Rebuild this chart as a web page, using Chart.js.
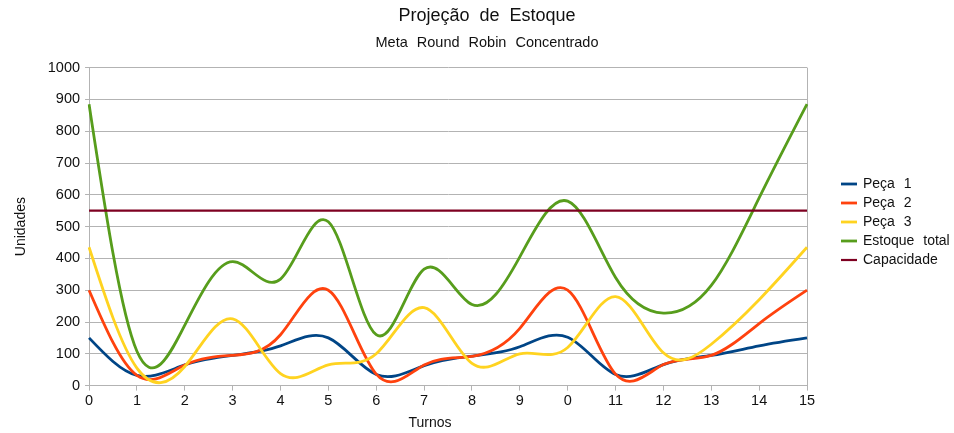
<!DOCTYPE html>
<html lang="pt">
<head>
<meta charset="utf-8">
<title>Projeção de Estoque</title>
<script src="https://cdn.jsdelivr.net/npm/chart.js@4/dist/chart.umd.min.js"></script>
<style>
  html, body { margin: 0; padding: 0; background: #fff; }
  #wrap { position: relative; width: 954px; height: 433px; }
</style>
</head>
<body>
<div id="wrap"><canvas id="grafico" width="954" height="433"></canvas></div>
<script>
// Turnos (rótulos do eixo X, como aparecem na planilha)
const turnos = ['0', '1', '2', '3', '4', '5', '6', '7', '8', '9', '0', '11', '12', '13', '14', '15'];

// Estoque projetado por turno
const peca1 = [150, 32, 65, 95, 125, 150, 35, 63, 93, 122, 152, 35, 66, 95, 125, 150];
const peca2 = [300, 32, 65, 95, 160, 300, 36, 65, 92, 180, 300, 36, 66, 95, 195, 300];
const peca3 = [435, 55, 60, 210, 38, 65, 100, 245, 70, 100, 120, 280, 103, 130, 270, 435];
const estoqueTotal = [885, 108, 190, 390, 335, 515, 160, 366, 255, 405, 580, 340, 228, 315, 590, 885];
const capacidade = [550, 550, 550, 550, 550, 550, 550, 550, 550, 550, 550, 550, 550, 550, 550, 550];

// Marcas do eixo Y
const ticksY = [0, 100, 200, 300, 400, 500, 600, 700, 800, 900, 1000];

const FONTE = "'Liberation Sans', Arial, sans-serif";
const GRADE = '#b3b3b3';
const TEXTO = '#111';
const ESPACO_PALAVRAS = '5px';
const LARGURA_LEGENDA = 147;

Chart.defaults.font.family = FONTE;
Chart.defaults.color = TEXTO;

// Espaçamento entre palavras (o contexto é reiniciado quando o canvas muda de tamanho)
const espacamento = {
  id: 'espacamento',
  beforeUpdate(chart) { chart.ctx.wordSpacing = ESPACO_PALAVRAS; },
  beforeDraw(chart) { chart.ctx.wordSpacing = ESPACO_PALAVRAS; }
};

// Curvas suavizadas por spline cúbica natural (passa exatamente pelos pontos)
const splineNatural = {
  id: 'splineNatural',
  beforeDatasetsDraw(chart) {
    chart.data.datasets.forEach((ds, di) => {
      if (!ds.tension) return;
      const meta = chart.getDatasetMeta(di);
      const line = meta.dataset;
      if (line && typeof line.updateControlPoints === 'function') {
        line.updateControlPoints(chart.chartArea, 'x');
      }
      const pts = meta.data;
      const n = pts.length - 1;
      if (n < 1) return;
      const y = pts.map(p => p.y);
      const h = (pts[n].x - pts[0].x) / n;
      const M = new Array(n + 1).fill(0);
      if (n >= 2) {
        const m = n - 1;
        const cP = new Array(m);
        const dP = new Array(m);
        for (let k = 0; k < m; k++) {
          const i = k + 1;
          const d = 6 * (y[i + 1] - 2 * y[i] + y[i - 1]) / (h * h);
          if (k === 0) {
            cP[0] = 1 / 4;
            dP[0] = d / 4;
          } else {
            const den = 4 - cP[k - 1];
            cP[k] = 1 / den;
            dP[k] = (d - dP[k - 1]) / den;
          }
        }
        for (let k = m - 1; k >= 0; k--) {
          M[k + 1] = dP[k] - (k < m - 1 ? cP[k] * M[k + 2] : 0);
        }
      }
      for (let i = 0; i <= n; i++) {
        let D;
        if (i < n) {
          D = (y[i + 1] - y[i]) / h - h * (2 * M[i] + M[i + 1]) / 6;
        } else {
          D = (y[n] - y[n - 1]) / h + h * (M[n - 1] + 2 * M[n]) / 6;
        }
        const p = pts[i];
        p.cp1x = p.x - h / 3;
        p.cp1y = p.y - D * h / 3;
        p.cp2x = p.x + h / 3;
        p.cp2y = p.y + D * h / 3;
      }
      if (line) line._path = undefined;
    });
  }
};

// Título do eixo X e legenda à direita
const rotulos = {
  id: 'rotulos',
  afterDraw(chart) {
    const { ctx, chartArea } = chart;
    ctx.save();
    ctx.wordSpacing = ESPACO_PALAVRAS;
    ctx.font = '14px ' + FONTE;
    ctx.fillStyle = TEXTO;
    ctx.textBaseline = 'middle';

    ctx.textAlign = 'center';
    ctx.fillText('Turnos', chartArea.left + chartArea.width * 0.475, chart.height - 10);

    ctx.textAlign = 'left';
    const sets = chart.data.datasets;
    const passo = 19;
    const centro = (chartArea.top + chartArea.bottom) / 2 - 4.4;
    const x0 = chartArea.right + 34;
    sets.forEach((ds, i) => {
      const yy = Math.round(centro + (i - (sets.length - 1) / 2) * passo);
      ctx.strokeStyle = ds.borderColor;
      ctx.lineWidth = ds.borderWidth;
      ctx.beginPath();
      ctx.moveTo(x0, yy);
      ctx.lineTo(x0 + 16, yy);
      ctx.stroke();
      ctx.fillText(ds.label, x0 + 22, yy + 0.5);
    });
    ctx.restore();
  }
};

function serie(label, data, cor, largura, ordem) {
  return {
    label,
    data,
    borderColor: cor,
    backgroundColor: cor,
    borderWidth: largura,
    pointRadius: 0,
    pointHoverRadius: 0,
    tension: 0.4,
    fill: false,
    order: ordem
  };
}

new Chart(document.getElementById('grafico'), {
  type: 'line',
  data: {
    labels: turnos,
    datasets: [
      serie('Peça 1', peca1, '#004586', 2.8, 5),
      serie('Peça 2', peca2, '#ff420e', 2.8, 4),
      serie('Peça 3', peca3, '#ffd320', 2.8, 3),
      serie('Estoque total', estoqueTotal, '#579d1c', 2.8, 2),
      Object.assign(serie('Capacidade', capacidade, '#7e0021', 2.2, 1), { tension: 0 })
    ]
  },
  options: {
    responsive: false,
    animation: false,
    events: [],
    layout: { padding: { left: 20, right: 0, top: 0, bottom: 21 } },
    plugins: {
      title: {
        display: true,
        text: 'Projeção de Estoque',
        color: TEXTO,
        font: { size: 18, weight: 'normal' },
        padding: { top: 5, bottom: 0 }
      },
      subtitle: {
        display: true,
        text: 'Meta Round Robin Concentrado',
        color: TEXTO,
        font: { size: 14.5, weight: 'normal' },
        padding: { top: 8, bottom: 15.6 }
      },
      legend: { display: false },
      tooltip: { enabled: false }
    },
    scales: {
      x: {
        type: 'category',
        offset: false,
        grid: {
          drawOnChartArea: true,
          color: (c) => (c.index === turnos.length - 1 ? GRADE : 'rgba(0,0,0,0)'),
          tickColor: GRADE,
          tickLength: 5
        },
        border: { color: GRADE },
        ticks: { padding: 2, maxRotation: 0, autoSkip: false, font: { size: 14.5 } }
      },
      y: {
        min: ticksY[0],
        max: ticksY[ticksY.length - 1],
        afterBuildTicks(scale) { scale.ticks = ticksY.map(v => ({ value: v })); },
        ticks: { padding: 5, font: { size: 14.5 }, callback: (v) => String(v) },
        grid: { color: GRADE, tickColor: GRADE, tickLength: 4 },
        border: { color: GRADE },
        title: {
          display: true,
          text: 'Unidades',
          color: TEXTO,
          font: { size: 14 },
          padding: { top: -7, bottom: 13 }
        }
      },
      // faixa reservada para a legenda, à direita da área do gráfico
      legenda: {
        type: 'linear',
        position: 'right',
        display: true,
        grid: { display: false, drawTicks: false },
        border: { display: false },
        ticks: { display: false },
        afterFit(scale) { scale.width = LARGURA_LEGENDA; }
      }
    }
  },
  plugins: [espacamento, splineNatural, rotulos]
});
</script>
</body>
</html>
